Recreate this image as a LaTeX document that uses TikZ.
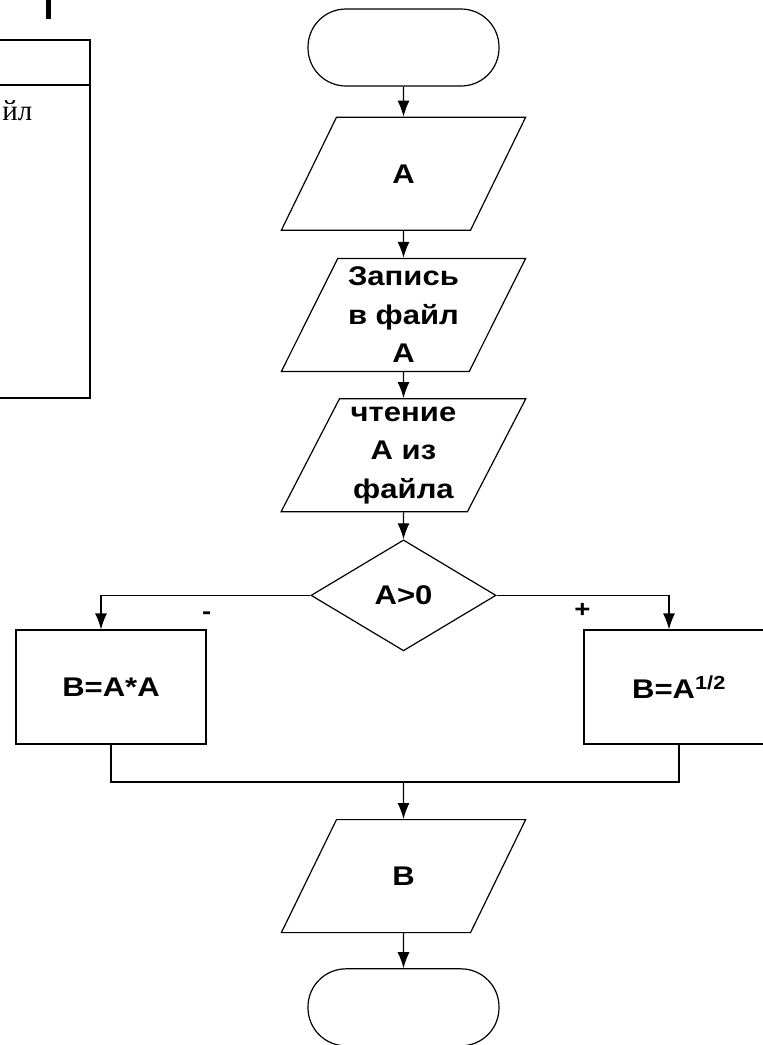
\documentclass[tikz,border=0pt]{standalone}
\usepackage{fontspec}
\setmainfont{Liberation Sans}[FakeStretch=1.15]
\newfontfamily\serifcyr{Liberation Serif}
\usetikzlibrary{shapes.geometric,positioning,arrows.meta}

\tikzset{
  terminal/.style={draw, rectangle, rounded corners=38pt, minimum width=191pt, minimum height=77pt},
  io/.style={draw, trapezium, trapezium left angle=63.6, trapezium right angle=116.4,
    trapezium stretches=true, minimum width=245pt, minimum height=113pt, inner sep=0pt,
    align=center, font=\bfseries\fontsize{27}{38.5}\selectfont},
  decision/.style={draw, diamond, minimum width=185pt, minimum height=111pt, inner sep=0pt,
    font=\bfseries\fontsize{27}{34}\selectfont},
  process/.style={draw, rectangle, minimum width=190pt, minimum height=114pt,
    font=\bfseries\fontsize{27}{34}\selectfont},
  lbl/.style={font=\bfseries\fontsize{24}{28}\selectfont, inner sep=0pt}
}

\begin{document}
\begin{tikzpicture}[x=1pt, y=1pt, line width=1.2pt, >={Latex[length=16pt,width=12pt]}]
\useasboundingbox (0,0) rectangle (763,-1045);
\clip (0,0) rectangle (763,-1045);

% table at the left edge
\draw[line width=2pt] (-10,-40) -- (90,-40) -- (90,-398) -- (-10,-398);
\draw[line width=2pt] (-10,-85) -- (90,-85);
\node[font=\serifcyr\fontsize{29}{34}\selectfont, anchor=base east, inner sep=0pt] (word) at (33,-120) {йл};
\fill (46,0) rectangle (51,-19);

% main chain
\node[terminal] (start) at (403.5,-47.5) {};
\node[io, below=30pt of start] (in) {A};
\node[io, below=27pt of in] (write) {Запись\\в файл\\А};
\node[io, below=26pt of write] (read) {чтение\\А из\\файла};
\node[decision, below=27pt of read] (cond) {A>0};

% branches
\node[process] (sq) at (111,-687) {B=A*A};
\node[process] (root) at (679,-687) {B=A\textsuperscript{1/2}};
\node[lbl] (minus) at ([yshift=14pt]sq.north east) {-};
\node[lbl] (plus) at ([xshift=-1pt,yshift=19pt]root.north west) {+};

\coordinate (join) at (403.5,-782);
\node[io, below=37pt of join] (out) {B};
\node[terminal, below=35pt of out] (stop) {};

\draw[->] (start) -- (in);
\draw[->] (in) -- (write);
\draw[->] (write) -- (read);
\draw[->] (read) -- (cond);
\draw[->] (cond.west) -| ([xshift=-10pt]sq.north);
\draw[->] (cond.east) -| ([xshift=-10pt]root.north);
\draw (sq.south) |- (join);
\draw (root.south) |- (join);
\draw[->] (join) -- (out);
\draw[->] (out) -- (stop);
\end{tikzpicture}
\end{document}
